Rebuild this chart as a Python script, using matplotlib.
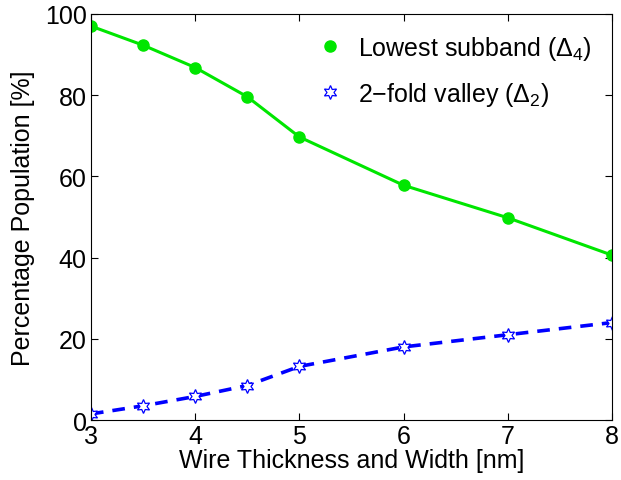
import numpy as np
import matplotlib
matplotlib.use('Agg')
import matplotlib.pyplot as plt

plt.rcParams['font.family'] = ['Liberation Sans', 'DejaVu Sans']
plt.rcParams['mathtext.fontset'] = 'custom'
plt.rcParams['mathtext.rm'] = 'Liberation Sans'
plt.rcParams['mathtext.it'] = 'Liberation Sans:italic'

#%% datos
grosor = [3, 3.5, 4, 4.5, 5, 6, 7, 8]  # nm
subbanda = [97.0, 92.3, 86.8, 79.6, 69.7, 57.8, 49.8, 40.6]  # Delta_4
valle2 = [1.5, 3.5, 5.8, 8.5, 13.2, 18.0, 21.0, 24.0]  # Delta_2

verde = '#00e600'
azul = '#0000ff'
fs = 18

fig, ax = plt.subplots(figsize=(6.21, 4.81), dpi=100)
fig.subplots_adjust(left=0.1465, right=0.9855, top=0.969, bottom=0.1247)

ax.plot(grosor, subbanda, '-', color=verde, lw=2.2)
ax.plot(grosor, valle2, '--', color=azul, lw=2.6, dashes=(3.5, 2.5))
ax.plot(grosor, subbanda, 'o', color=verde, ms=8, ls='none',
        label=r'Lowest subband ($\Delta_4$)')
ax.plot(grosor, valle2, marker=(6, 1, 0), mfc='white', mec=azul, mew=0.9,
        ms=10, ls='none', label=r'2$-$fold valley ($\Delta_2$)')

ax.set_xlim(3, 8)
ax.set_ylim(0, 100)
ax.set_xticks([3, 4, 5, 6, 7, 8])
ax.set_yticks([0, 20, 40, 60, 80, 100])
ax.tick_params(direction='in', top=True, right=True, labelsize=fs, length=5, pad=3)
ax.set_xlabel('Wire Thickness and Width [nm]', fontsize=fs, labelpad=0)
ax.set_ylabel('Percentage Population [%]', fontsize=fs, labelpad=7)

ax.legend(loc='upper right', frameon=False, fontsize=fs, handletextpad=0.5,
          borderaxespad=0.4, labelspacing=0.72, handlelength=1.3)

plt.savefig('out.png', dpi=100)
